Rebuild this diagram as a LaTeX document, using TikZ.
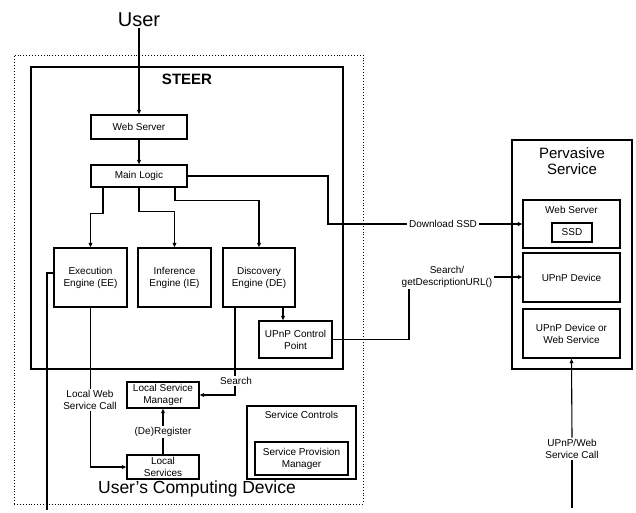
\documentclass[tikz,border=0pt]{standalone}
\usepackage{fontspec}
\setmainfont{Liberation Sans}
\usetikzlibrary{arrows.meta}
\begin{document}
\begin{tikzpicture}[x=1pt,y=-1pt,
  box/.style={draw, line width=1.4pt, inner sep=1pt, align=center, font=\fontsize{10}{12}\selectfont},
  lbl/.style={inner sep=1.5pt, align=center, font=\fontsize{10}{12}\selectfont},
  con/.style={line width=1.1pt},
  arr/.style={line width=1.1pt, -{Triangle[length=4.5pt,width=3.8pt]}}
]
\useasboundingbox (0,0) rectangle (636,512);
% containers
\node[draw, dotted, line width=0.9pt, minimum width=349pt, minimum height=449pt, inner sep=0pt] (ucd) at (188.5,279.5) {};
\node[draw, line width=1.7pt, minimum width=312pt, minimum height=302pt, inner sep=0pt] (steer) at (187,218) {};
\node[draw, line width=1.6pt, minimum width=120pt, minimum height=229pt, inner sep=0pt] (perv) at (572,254.5) {};
% titles
\node[font=\fontsize{20}{22}\selectfont, inner sep=1pt] (user) at (139,20) {User};
\node[font=\bfseries\fontsize{15}{17}\selectfont] (steert) at (187,79) {STEER};
\node[font=\fontsize{15}{16.5}\selectfont, align=center] (pervt) at (572,161) {Pervasive\\Service};
\node[font=\fontsize{17.5}{19}\selectfont] (ucdt) at (197,489) {User's Computing Device};
% STEER boxes
\node[box, minimum width=96pt, minimum height=24pt] (ws) at (139,127) {Web Server};
\node[box, minimum width=96pt, minimum height=22pt] (ml) at (139,176) {Main Logic};
\node[box, minimum width=73pt, minimum height=59pt] (ee) at (90.5,277.5) {Execution\\Engine (EE)};
\node[box, minimum width=73pt, minimum height=59pt] (ie) at (174.5,277.5) {Inference\\Engine (IE)};
\node[box, minimum width=72pt, minimum height=59pt] (de) at (259,277.5) {Discovery\\Engine (DE)};
\node[box, minimum width=73pt, minimum height=37pt] (ucp) at (295.5,339.5) {UPnP Control\\Point};
% device boxes
\node[box, minimum width=72pt, minimum height=26pt] (lsm) at (163,395) {Local Service\\Manager};
\node[box, minimum width=72pt, minimum height=24pt] (ls) at (163,467) {Local\\Services};
\node[box, minimum width=109pt, minimum height=73pt] (sc) at (301.5,442.5) {};
\node[lbl] (sct) at (301.5,415) {Service Controls};
\node[box, minimum width=93pt, minimum height=33pt] (spm) at (301.5,458.5) {Service Provision\\Manager};
% pervasive boxes
\node[box, minimum width=97pt, minimum height=48pt] (pws) at (571.5,224) {};
\node[lbl] (pwst) at (571.5,210) {Web Server};
\node[box, minimum width=40pt, minimum height=19pt] (ssd) at (572,232.5) {SSD};
\node[box, minimum width=97pt, minimum height=49pt] (upd) at (571.5,277.5) {UPnP Device};
\node[box, minimum width=97pt, minimum height=49pt] (udw) at (571.5,333.5) {UPnP Device or\\Web Service};
% labels on connectors
\node[lbl] (dl) at (443,224) {Download SSD};
\node[lbl] (sr) at (447,277) {Search/\\getDescriptionURL()};
\node[lbl] (srch) at (236,381) {Search};
\node[lbl] (lwsc) at (90,400) {Local Web\\Service Call};
\node[lbl] (dereg) at (163,432) {(De)Register};
\node[lbl] (uwc) at (572,449) {UPnP/Web\\Service Call};
\coordinate (eeout) at (47,510);
\coordinate (uwcin) at (572,508);
% connectors
\draw[arr] (user.south) -- (ws.north);
\draw[arr] (ws.south) -- (ml.north);
\draw[arr] ([xshift=-36pt]ml.south) -- ++(0,26) -| (ee.north);
\draw[arr] (ml.south) -- ++(0,24) -| (ie.north);
\draw[arr] ([xshift=36pt]ml.south) -- ++(0,13) -| (de.north);
\draw[con] (ml.east) -| (328,224) -- (dl.west);
\draw[arr] (dl.east) -- (pws.west);
\draw[arr] ([xshift=24pt]de.south) -- ([xshift=-12.5pt]ucp.north);
\draw[con] (ucp.east) -| ([xshift=-38pt]sr.south);
\draw[arr] (sr.east) -- (sr.east -| upd.west);
\draw[con] ([xshift=-24pt]de.south) -- (srch.north -| 235,0);
\draw[arr] (srch.south -| 235,0) |- (lsm.east);
\draw[con] (ee.south) -- (lwsc.north -| ee.south);
\draw[arr] (lwsc.south -| ee.south) |- (ls.west);
\draw[con] (ls.north) -- (dereg.south);
\draw[arr] (dereg.north) -- (lsm.south);
\draw[con] ([yshift=4.5pt]ee.west) -| (eeout);
\draw[con] (uwcin) -- (uwc.south);
\draw[arr] (uwc.north) -- (udw.south);
\end{tikzpicture}
\end{document}
